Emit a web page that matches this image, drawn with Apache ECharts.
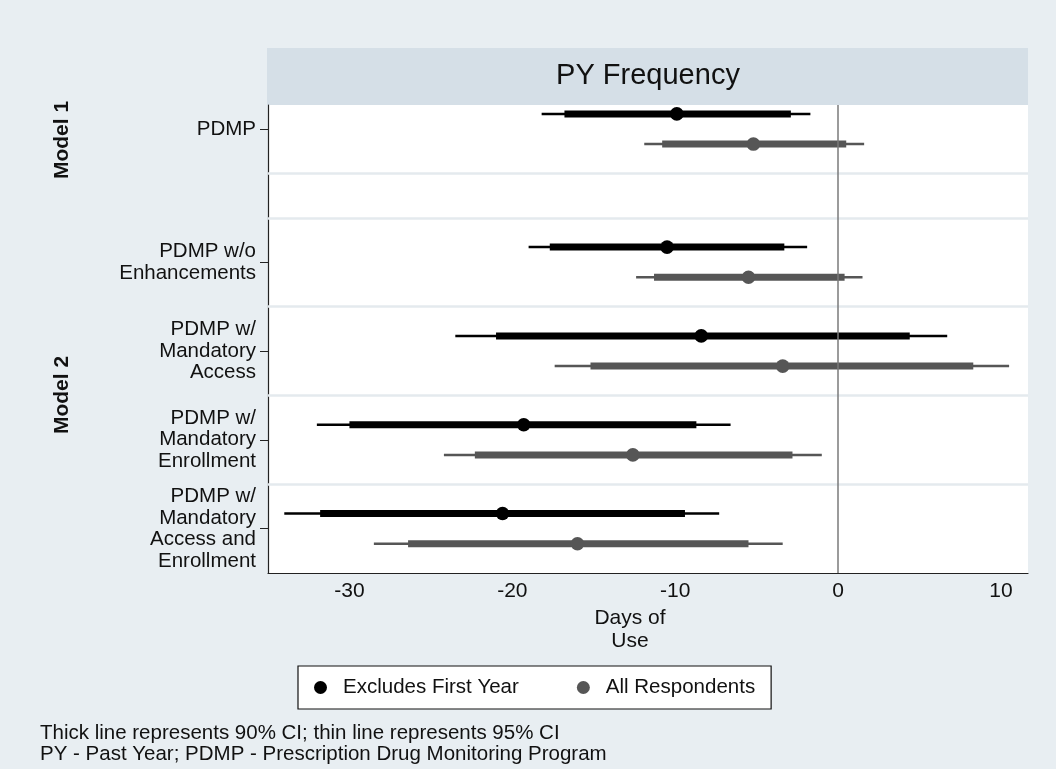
<!DOCTYPE html>
<html>
<head>
<meta charset="utf-8">
<script src="https://cdn.jsdelivr.net/npm/echarts@6/dist/echarts.min.js"></script>
<style>
html,body{margin:0;padding:0;background:#e8eef2;}
#chart{width:1056px;height:769px;}
</style>
</head>
<body>
<div id="chart"></div>
<script>
// ---- data ----
const categories = ['PDMP', 'PDMP w/o\nEnhancements', 'PDMP w/\nMandatory\nAccess', 'PDMP w/\nMandatory\nEnrollment', 'PDMP w/\nMandatory\nAccess and\nEnrollment'];
const models = ['Model 1', 'Model 2', 'Model 2', 'Model 2', 'Model 2'];
const seriesNames = ['Excludes First Year', 'All Respondents'];
// Excludes First Year
const exclEst  = [-9.9, -10.5, -8.4, -19.3, -20.6];
const exclLo90 = [-16.8, -17.7, -21.0, -30.0, -31.8];
const exclHi90 = [-2.9, -3.3, 4.4, -8.7, -9.4];
const exclLo95 = [-18.2, -19.0, -23.5, -32.0, -34.0];
const exclHi95 = [-1.7, -1.9, 6.7, -6.6, -7.3];
// All Respondents
const allEst  = [-5.2, -5.5, -3.4, -12.6, -16.0];
const allLo90 = [-10.8, -11.3, -15.2, -22.3, -26.4];
const allHi90 = [0.5, 0.4, 8.3, -2.8, -5.5];
const allLo95 = [-11.9, -12.4, -17.4, -24.2, -28.5];
const allHi95 = [1.6, 1.5, 10.5, -1.0, -3.4];
const xTicks = [-30, -20, -10, 0, 10];
const panelTitle = 'PY Frequency';
const xTitle = 'Days of\nUse';
const notes = ['Thick line represents 90% CI; thin line represents 95% CI', 'PY - Past Year; PDMP - Prescription Drug Monitoring Program'];

// ---- layout helpers ----
const FONT = "'Liberation Sans', Arial, Helvetica, sans-serif";
// Model 1 rows sit above a gap; Model 2 rows are at 1..n
const m2Start = models.indexOf('Model 2');
function rowPos(i) { return models[i] === 'Model 1' ? (i - m2Start) + 0.5 : (i - m2Start) + 1; }
const rowPositions = categories.map((c, i) => rowPos(i));
const separators = [0, 0.5];
for (let i = m2Start; i < categories.length - 1; i++) separators.push(rowPos(i) + 0.5);

function buildData(lo95, hi95, lo90, hi90, est, off) {
  return categories.map((c, i) => [rowPos(i) + off, lo95[i], hi95[i], lo90[i], hi90[i], est[i]]);
}

function renderCI(params, api) {
  const y = api.value(0);
  const a95 = api.coord([api.value(1), y]);
  const b95 = api.coord([api.value(2), y]);
  const a90 = api.coord([api.value(3), y]);
  const b90 = api.coord([api.value(4), y]);
  const pe = api.coord([api.value(5), y]);
  const color = api.visual('color');
  return {
    type: 'group',
    children: [
      { type: 'line', shape: { x1: a95[0], y1: a95[1], x2: b95[0], y2: b95[1] }, style: { stroke: color, lineWidth: 2.5 } },
      { type: 'line', shape: { x1: a90[0], y1: a90[1], x2: b90[0], y2: b90[1] }, style: { stroke: color, lineWidth: 7 } },
      { type: 'circle', shape: { cx: pe[0], cy: pe[1], r: 6.8 }, style: { fill: color } }
    ]
  };
}

const chart = echarts.init(document.getElementById('chart'));
const colors = ['#000000', '#565656'];

const option = {
  backgroundColor: '#e8eef2',
  animation: false,
  textStyle: { fontFamily: FONT },
  grid: { left: 268, top: 105, right: 28, bottom: 196, show: true, backgroundColor: '#ffffff', borderWidth: 0 },
  xAxis: {
    type: 'value', min: -35, max: 11.66,
    axisLine: { show: true, onZero: false, lineStyle: { color: '#222', width: 1.2 } },
    axisTick: { show: false },
    splitLine: { show: false },
    axisLabel: { customValues: xTicks, fontSize: 21, color: '#111', margin: 8, fontFamily: FONT },
    name: xTitle, nameLocation: 'middle', nameGap: 27,
    nameTextStyle: { fontSize: 21, lineHeight: 23, color: '#111', fontFamily: FONT, padding: [0, 36, 0, 0] }
  },
  yAxis: {
    type: 'value', inverse: true, min: -0.77, max: 4.5,
    axisLine: { show: true, onZero: false, lineStyle: { color: '#222', width: 1.2 } },
    axisTick: { show: true, customValues: rowPositions, length: 8, lineStyle: { color: '#222' } },
    splitLine: { show: false },
    axisLabel: {
      customValues: rowPositions, fontSize: 20.5, lineHeight: 21.5, color: '#111', margin: 12, align: 'right', fontFamily: FONT,
      formatter: function (v) {
        const idx = rowPositions.findIndex(p => Math.abs(p - v) < 1e-6);
        return idx >= 0 ? categories[idx] : '';
      }
    }
  },
  legend: {
    data: seriesNames.map((n, i) => ({ name: n, icon: 'circle', itemStyle: { color: colors[i] } })),
    left: 298, top: 666,
    orient: 'horizontal',
    backgroundColor: '#ffffff', borderColor: '#111', borderWidth: 1.2,
    padding: [11, 16, 11, 16],
    itemWidth: 13, itemHeight: 13, itemGap: 58,
    textStyle: { fontSize: 20.5, color: '#111', fontFamily: FONT, padding: [0, 0, 0, 11] }
  },
  graphic: [
    { type: 'rect', left: 267, top: 48, shape: { width: 761, height: 57 }, style: { fill: '#d5dfe7' }, z: 0 },
    { type: 'text', x: 648, y: 76, style: { text: panelTitle, fontSize: 29, fill: '#111', align: 'center', verticalAlign: 'middle', fontFamily: FONT }, z: 1 },
    { type: 'text', x: 62, y: 140, rotation: Math.PI / 2, style: { text: 'Model 1', fontSize: 21, fontWeight: 'bold', fill: '#111', align: 'center', verticalAlign: 'middle', fontFamily: FONT } },
    { type: 'text', x: 62, y: 395, rotation: Math.PI / 2, style: { text: 'Model 2', fontSize: 21, fontWeight: 'bold', fill: '#111', align: 'center', verticalAlign: 'middle', fontFamily: FONT } },
    { type: 'text', x: 40, y: 733, style: { text: notes[0], fontSize: 20.5, fill: '#111', align: 'left', verticalAlign: 'middle', fontFamily: FONT } },
    { type: 'text', x: 40, y: 754, style: { text: notes[1], fontSize: 20.5, fill: '#111', align: 'left', verticalAlign: 'middle', fontFamily: FONT } }
  ],
  series: [
    {
      type: 'line', name: '_guides', data: [], silent: true, z: 1, legendHoverLink: false,
      markLine: {
        silent: true, symbol: 'none', animation: false, label: { show: false },
        data: separators.map(s => ({ yAxis: s, lineStyle: { color: '#e4eaee', width: 2.5, type: 'solid' } }))
          .concat([{ xAxis: 0, lineStyle: { color: '#7a7a7a', width: 1.5, type: 'solid' } }])
      }
    },
    {
      type: 'custom', name: seriesNames[0], z: 3, itemStyle: { color: colors[0] },
      renderItem: renderCI, encode: { x: [1, 2, 3, 4, 5], y: 0 },
      data: buildData(exclLo95, exclHi95, exclLo90, exclHi90, exclEst, -0.17)
    },
    {
      type: 'custom', name: seriesNames[1], z: 3, itemStyle: { color: colors[1] },
      renderItem: renderCI, encode: { x: [1, 2, 3, 4, 5], y: 0 },
      data: buildData(allLo95, allHi95, allLo90, allHi90, allEst, 0.17)
    }
  ]
};
chart.setOption(option);
</script>
</body>
</html>
